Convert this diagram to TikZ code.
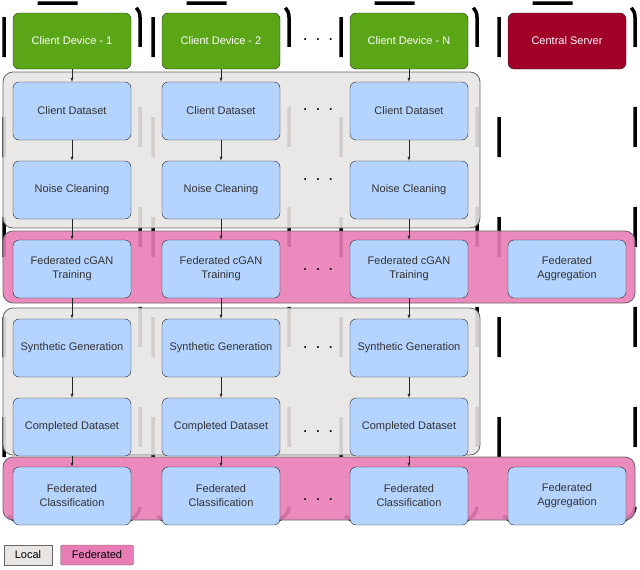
\documentclass[tikz,border=0pt]{standalone}
\usepackage{fontspec}
\setmainfont{Liberation Sans}
\definecolor{devgreen}{HTML}{5BA617}
\definecolor{srvred}{HTML}{A10028}
\definecolor{stepblue}{HTML}{B4D3FF}
\definecolor{fedpink}{HTML}{E87DB6}
\definecolor{locgray}{HTML}{E8E5E3}
\tikzset{
  stage/.style={draw=black!85, fill=stepblue, rounded corners=6pt, minimum width=118pt,
    minimum height=58pt, align=center, font=\fontsize{11}{14}\selectfont, text=black!80},
  dev/.style={stage, fill=devgreen, minimum height=56pt, text=white},
  srv/.style={stage, fill=srvred, minimum height=56pt, text=white},
  col/.style={draw=black, line width=3.5pt, dash pattern=on 40pt off 60pt, rounded corners=14pt},
  band/.style={draw=black!60, rounded corners=10pt, line width=0.8pt},
  flow/.style={-latex, black!85},
  dots/.style={font=\LARGE}
}
\begin{document}
\begin{tikzpicture}[x=1pt,y=-1pt]
\useasboundingbox (0,0) rectangle (640,570);
% column outlines
\foreach \cx in {72,221,409,567}
  \draw[col] (\cx-68,3) rectangle (\cx+68,520);
% bands
\fill[locgray, opacity=0.9, rounded corners=10pt] (3,72) rectangle (480,228);
\draw[band] (3,72) rectangle (480,228);
\fill[fedpink, opacity=0.9, rounded corners=10pt] (3,231) rectangle (635,303);
\draw[band] (3,231) rectangle (635,303);
\fill[locgray, opacity=0.9, rounded corners=10pt] (3,308) rectangle (480,455);
\draw[band] (3,308) rectangle (480,455);
\fill[fedpink, opacity=0.9, rounded corners=10pt] (3,457) rectangle (635,520);
\draw[band] (3,457) rectangle (635,520);
% nodes
\foreach \cx/\k/\lbl in {72/a/1, 221/b/2, 409/c/N}{
  \node[dev] (\k0) at (\cx,41) {Client Device - \lbl};
  \node[stage] (\k1) at (\cx,111) {Client Dataset};
  \node[stage] (\k2) at (\cx,190) {Noise Cleaning};
  \node[stage] (\k3) at (\cx,269) {Federated cGAN\\Training};
  \node[stage] (\k4) at (\cx,348) {Synthetic Generation};
  \node[stage] (\k5) at (\cx,427) {Completed Dataset};
  \node[stage] (\k6) at (\cx,496) {Federated\\Classification};
  \foreach \i [evaluate=\i as \j using int(\i+1)] in {0,...,5}
    \draw[flow] (\k\i) -- (\k\j);
}
\node[srv] (s0) at (567,41) {Central Server};
\node[stage] (s3) at (567,269) {Federated\\Aggregation};
\node[stage] (s6) at (567,496) {Federated\\Aggregation};
% ellipses between columns
\foreach \yy in {40,110,180,270,348,432,500}
  \node[dots] at (318,\yy) {.\hspace{8pt}.\hspace{8pt}.};
% legend
\node[draw=black!60, fill=locgray, minimum width=48pt, minimum height=20pt,
  font=\fontsize{11}{14}\selectfont] (lg1) at (28,555) {Local};
\node[draw=black!60, fill=fedpink, rounded corners=2pt, minimum width=73pt, minimum height=20pt,
  font=\fontsize{11}{14}\selectfont] (lg2) at (97,555) {Federated};
\end{tikzpicture}
\end{document}
